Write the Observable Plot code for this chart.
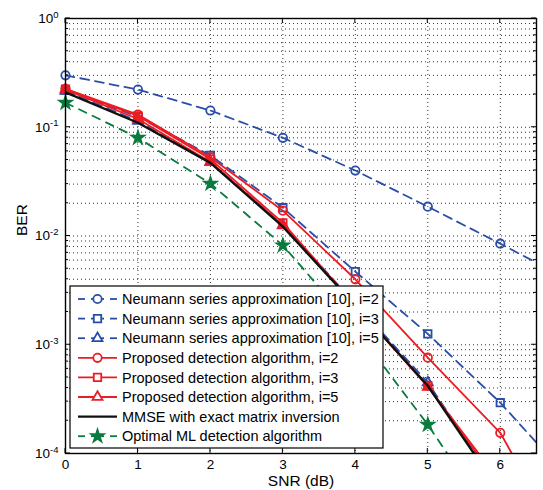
<!DOCTYPE html>
<html><head><meta charset="utf-8">
<script src="https://cdn.jsdelivr.net/npm/d3@7"></script>
<script src="https://cdn.jsdelivr.net/npm/@observablehq/plot@0.6"></script>
<style>body{margin:0;background:#fff;}</style>
</head><body><div id="chart"></div>
<script>
// ---- data ----
const snr = [0, 1, 2, 3, 4, 5, 6, 7];
const neumann2  = [0.30, 0.222, 0.1425, 0.080, 0.040, 0.0186, 0.0085, 0.0038];
const neumann3  = [0.22, 0.125, 0.055, 0.0182, 0.0047, 0.00126, 0.000293, 0.000054];
const neumann5  = [0.215, 0.114, 0.048, 0.0126, 0.0024, 0.00045, 0.000045];
const proposed2 = [0.226, 0.131, 0.053, 0.0171, 0.0040, 0.00076, 0.000155, 0.00001];
const proposed3 = [0.224, 0.127, 0.051, 0.0132, 0.0023, 0.00042, 0.00005];
const proposed5 = [0.222, 0.119, 0.048, 0.0125, 0.0023, 0.00041, 0.000055];
const mmse      = [0.209, 0.110, 0.047, 0.0122, 0.0023, 0.00042, 0.000044];
const optimalML = [0.168, 0.080, 0.0303, 0.0082, 0.0014, 0.000184, 0.000019];

const xTicks = [0, 1, 2, 3, 4, 5, 6];
const yMajor = [1e-4, 1e-3, 1e-2, 1e-1, 1];
const yExponents = ["-4", "-3", "-2", "-1", "0"];
const legendLabels = [
  "Neumann series approximation [10], i=2",
  "Neumann series approximation [10], i=3",
  "Neumann series approximation [10], i=5",
  "Proposed detection algorithm, i=2",
  "Proposed detection algorithm, i=3",
  "Proposed detection algorithm, i=5",
  "MMSE with exact matrix inversion",
  "Optimal ML detection algorithm"
];
const xLabel = "SNR (dB)";
const yLabel = "BER";

// ---- styles ----
const BLUE = "#2a4ea8", RED = "#ec1c24", BLACK = "#111", GREEN = "#0b7a3e";
const series = [
  {values: neumann2,  color: BLUE,  dash: "9,6", symbol: "circle",   r: 4.2, fill: "none", sw: 1.8},
  {values: neumann3,  color: BLUE,  dash: "9,6", symbol: "square",   r: 4.2, fill: "none", sw: 1.8},
  {values: neumann5,  color: BLUE,  dash: "9,6", symbol: "triangle", r: 3.7, fill: "none", sw: 1.8},
  {values: proposed2, color: RED,   dash: null,  symbol: "circle",   r: 4.2, fill: "none", sw: 1.8},
  {values: proposed3, color: RED,   dash: null,  symbol: "square",   r: 4.2, fill: "none", sw: 1.8},
  {values: proposed5, color: RED,   dash: null,  symbol: "triangle", r: 3.7, fill: RED,    sw: 1.8},
  {values: mmse,      color: BLACK, dash: null,  symbol: null,       r: 0,   fill: "none", sw: 2.4},
  {values: optimalML, color: GREEN, dash: "8,7", symbol: "star",     r: 3.9, fill: GREEN,  sw: 1.8}
].map((s, k) => ({...s, name: legendLabels[k]}));

const xMax = 6.5, yMin = 1e-4;
const marks = [
  Plot.gridX({ticks: xTicks, stroke: "#000", strokeOpacity: 0.8, strokeDasharray: "1,3"}),
  Plot.gridY({ticks: d3.range(-4, 0).flatMap(e => d3.range(1, 10).map(m => m * 10 ** e)).concat([1]),
              stroke: "#000", strokeOpacity: 0.8, strokeDasharray: "1,3"})
];
for (const s of series) {
  const rows = s.values.map((v, i) => ({x: snr[i], y: v}));
  marks.push(Plot.line(rows, {x: "x", y: "y", stroke: s.color, strokeWidth: s.sw,
    strokeDasharray: s.dash, clip: true}));
  if (s.symbol) {
    marks.push(Plot.dot(rows, {x: "x", y: "y", filter: d => d.x <= xMax && d.y >= yMin,
      symbol: s.symbol, r: s.r, stroke: s.color, fill: s.fill, strokeWidth: 1.8}));
  }
}
marks.push(
  Plot.axisX({ticks: xTicks, tickSize: 0, tickPadding: 6, fontSize: 13.5, label: null, tickFormat: d => String(d)}),
  Plot.axisY({ticks: yMajor, tickSize: 0, tickPadding: 7, fontSize: 13.5, label: null,
    tickFormat: d => "10^" + yExponents[yMajor.indexOf(d)]}),
  Plot.text([yLabel], {frameAnchor: "left", lineAnchor: "middle", dx: -43, rotate: -90, fontSize: 15.5, text: d => d}),
  Plot.text([xLabel], {frameAnchor: "bottom", lineAnchor: "middle", dy: 28, fontSize: 15.5, text: d => d}),
  Plot.frame({stroke: "#000", strokeWidth: 1.4})
);

const chart = Plot.plot({
  width: 543, height: 490,
  marginLeft: 65, marginRight: 7, marginTop: 18, marginBottom: 37,
  x: {domain: [0, xMax]},
  y: {type: "log", domain: [yMin, 1]},
  style: {fontFamily: "'Liberation Sans', Arial, sans-serif", fontSize: "13px", background: "#fff", color: "#000"},
  marks
});
document.getElementById("chart").appendChild(chart);

// ---- superscript exponents on y tick labels ----
const svg = d3.select(chart);
svg.selectAll("text").each(function() {
  const t = this.textContent;
  if (t.startsWith("10^")) {
    const el = d3.select(this);
    el.text("10");
    el.append("tspan").attr("dy", "-0.55em").attr("font-size", "9.5px").text(t.slice(3));
  }
});

// ---- inward ticks (MATLAB style) via the plot scales ----
const sx = chart.scale("x"), sy = chart.scale("y");
const X0 = sx.apply(0), X1 = sx.apply(xMax), Y0 = sy.apply(yMin), Y1 = sy.apply(1);
const tg = svg.append("g").attr("stroke", "#000").attr("stroke-width", 1);
for (const v of xTicks) {
  const px = sx.apply(v);
  tg.append("line").attr("x1", px).attr("x2", px).attr("y1", Y0).attr("y2", Y0 - 5);
  tg.append("line").attr("x1", px).attr("x2", px).attr("y1", Y1).attr("y2", Y1 + 5);
}
for (let e = -4; e <= 0; e++) {
  for (let m = 1; m <= (e === 0 ? 1 : 9); m++) {
    const py = sy.apply(m * 10 ** e), len = m === 1 ? 5 : 3;
    tg.append("line").attr("x1", X0).attr("x2", X0 + len).attr("y1", py).attr("y2", py);
    tg.append("line").attr("x1", X1).attr("x2", X1 - len).attr("y1", py).attr("y2", py);
  }
}

// ---- legend ----
const lg = svg.append("g").attr("text-anchor", "start");
const LX = 70, LY = 286, LW = 313, LH = 162, rowH = 19.6, firstY = 299;
lg.append("rect").attr("x", LX).attr("y", LY).attr("width", LW).attr("height", LH)
  .attr("fill", "#fff").attr("stroke", "#000").attr("stroke-width", 1.2);
const symMap = {circle: d3.symbolCircle, square: d3.symbolSquare, triangle: d3.symbolTriangle, star: d3.symbolStar};
series.forEach((s, k) => {
  const cy = firstY + k * rowH;
  const segs = s.dash ? [[78, 85], [91, 104], [110, 117]] : [[78, 117]];
  for (const [a, b] of segs) {
    lg.append("line").attr("x1", a).attr("x2", b).attr("y1", cy).attr("y2", cy)
      .attr("stroke", s.color).attr("stroke-width", s.sw);
  }
  if (s.symbol) {
    lg.append("path").attr("transform", `translate(97.5,${cy})`)
      .attr("d", d3.symbol(symMap[s.symbol], Math.PI * s.r * s.r)())
      .attr("fill", s.symbol === "star" ? s.color : "#fff").attr("stroke", s.color).attr("stroke-width", 1.8);
  }
  lg.append("text").attr("x", 122).attr("y", cy).attr("dy", "0.36em").attr("text-anchor", "start")
    .attr("font-size", "14.5px").attr("fill", "#000").text(s.name);
});
</script>
</body></html>
